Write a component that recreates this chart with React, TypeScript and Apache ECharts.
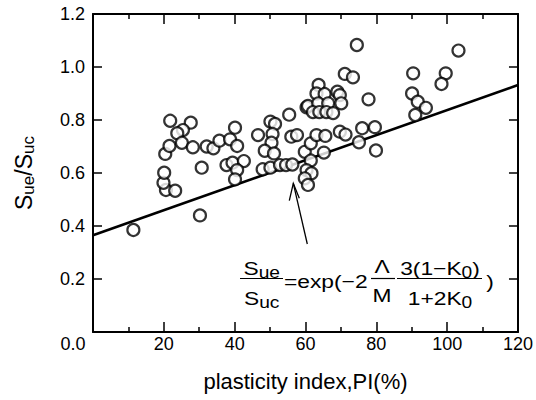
import React, { useEffect, useRef } from "react";
import * as echarts from "echarts";

// plasticity index PI (%)
const piValues = [
  11.4, 30.2, 20.6, 23.2, 19.9, 20.1, 20.4, 21.6, 21.8, 27.6, 25.4, 23.8, 25.1, 28.2, 30.7, 32.1, 34.0, 35.7, 38.7, 40.1, 40.7, 37.7, 39.4, 42.6, 40.7, 40.1,
  46.6, 50.1, 51.4, 50.7, 50.4, 48.5, 51.1, 47.9, 50.1, 52.8, 54.5, 56.3, 55.4, 56.0, 57.6, 60.3, 59.8, 61.5, 63.1, 65.6, 65.2, 61.5, 60.3, 61.7, 59.8, 60.7,
  71.1, 73.4, 63.7, 63.1, 65.4, 69.0, 69.7, 60.7, 63.6, 66.4, 70.1, 62.1, 63.9, 65.9, 67.8,
  74.5, 77.8, 103.2, 90.4, 99.6, 98.4, 90.1, 91.7, 94.0, 91.0,
  76.0, 79.6, 75.1, 79.9, 69.7, 71.3,
];
// Sue/Suc
const ratioValues = [
  0.385, 0.44, 0.536, 0.533, 0.563, 0.601, 0.672, 0.702, 0.797, 0.79, 0.762, 0.75, 0.714, 0.697, 0.62, 0.70, 0.693, 0.722, 0.727, 0.771, 0.702, 0.63, 0.639, 0.645, 0.611, 0.576,
  0.743, 0.794, 0.785, 0.747, 0.714, 0.684, 0.674, 0.614, 0.62, 0.63, 0.63, 0.632, 0.82, 0.737, 0.743, 0.848, 0.68, 0.712, 0.743, 0.74, 0.677, 0.647, 0.611, 0.599, 0.58, 0.555,
  0.974, 0.961, 0.932, 0.9, 0.898, 0.907, 0.894, 0.853, 0.863, 0.863, 0.863, 0.83, 0.83, 0.83, 0.826,
  1.083, 0.878, 1.062, 0.976, 0.976, 0.936, 0.9, 0.869, 0.846, 0.819,
  0.769, 0.773, 0.716, 0.685, 0.756, 0.745,
];
// theoretical line
const lineX = [0, 120];
const lineY = [0.365, 0.932];

const xMin = 0, xMax = 120, xStep = 20;
const yMin = 0, yMax = 1.2, yStep = 0.2;

const FONT = "'Liberation Sans', Arial, Helvetica, sans-serif";

export default function App() {
  const ref = useRef<HTMLDivElement>(null);
  useEffect(() => {
    if (!ref.current) return;
    const chart = echarts.init(ref.current, null, { renderer: "svg" });
    const axisLine = { show: true, onZero: false, lineStyle: { color: "#000", width: 2 } };
    const xTick = { show: true, inside: true, length: 10, lineStyle: { color: "#000", width: 1.5 } };
    const xMinor = { show: true, splitNumber: 2, length: 5, lineStyle: { color: "#000", width: 1.5 } };
    const yTick = { show: true, inside: true, length: 9, lineStyle: { color: "#000", width: 1.5 } };
    const eqText = (text: string, x: number, y: number, align = "center") => ({
      type: "text",
      x,
      y,
      scaleX: 1.2,
      z: 100,
      style: {
        text,
        fill: "#000",
        font: `19px ${FONT}`,
        align,
        verticalAlign: "middle",
        rich: {
          b: { fontSize: 16, fontFamily: FONT, fill: "#000", padding: [9, 0, 0, 0] },
        },
      },
    });
    const bar = (x1: number, x2: number) => ({
      type: "line",
      z: 100,
      shape: { x1, y1: 278.5, x2, y2: 278.5 },
      style: { stroke: "#000", lineWidth: 1.2 },
    });
    chart.setOption({
      animation: false,
      backgroundColor: "#fff",
      textStyle: { fontFamily: FONT },
      grid: { left: 93, right: 17, top: 14, bottom: 68 },
      xAxis: [
        {
          type: "value",
          min: xMin,
          max: xMax,
          interval: xStep,
          position: "bottom",
          axisLine,
          axisTick: xTick,
          minorTick: xMinor,
          splitLine: { show: false },
          minorSplitLine: { show: false },
          axisLabel: {
            color: "#000",
            fontSize: 18,
            fontFamily: FONT,
            margin: 3,
            showMinLabel: true,
            showMaxLabel: true,
            formatter: (v: number) => (v === 0 ? "{z|0.0}" : String(v)),
            rich: { z: { fontSize: 18, fontFamily: FONT, color: "#000", padding: [0, 40, 0, 0] } },
          },
          name: "plasticity index,PI(%)",
          nameLocation: "middle",
          nameGap: 38,
          nameTextStyle: { color: "#000", fontSize: 22, fontFamily: FONT },
        },
        {
          type: "value",
          min: xMin,
          max: xMax,
          interval: xStep,
          position: "top",
          axisLine,
          axisTick: xTick,
          minorTick: xMinor,
          splitLine: { show: false },
          axisLabel: { show: false },
        },
      ],
      yAxis: [
        {
          type: "value",
          min: yMin,
          max: yMax,
          interval: yStep,
          position: "left",
          axisLine,
          axisTick: yTick,
          splitLine: { show: false },
          axisLabel: {
            color: "#000",
            fontSize: 18,
            fontFamily: FONT,
            margin: 8,
            formatter: (v: number) => (v === 0 ? "" : v.toFixed(1)),
          },
          name: "{s|S}{b|ue}{s|/S}{b|uc}",
          nameLocation: "middle",
          nameRotate: 90,
          nameGap: 56,
          nameTextStyle: {
            color: "#000",
            rich: {
              s: { fontSize: 23, fontFamily: FONT, color: "#000" },
              b: { fontSize: 17, fontFamily: FONT, color: "#000", padding: [10, 0, 0, 0] },
            },
          },
        },
        {
          type: "value",
          min: yMin,
          max: yMax,
          interval: yStep,
          position: "right",
          axisLine,
          axisTick: yTick,
          splitLine: { show: false },
          axisLabel: { show: false },
        },
      ],
      series: [
        {
          type: "line",
          xAxisIndex: 0,
          yAxisIndex: 0,
          data: lineX.map((x, i) => [x, lineY[i]]),
          showSymbol: false,
          symbol: "none",
          lineStyle: { color: "#000", width: 2.6 },
          z: 2,
        },
        {
          type: "scatter",
          xAxisIndex: 0,
          yAxisIndex: 0,
          data: piValues.map((x, i) => [x, ratioValues[i]]),
          symbol: "circle",
          symbolSize: 12,
          itemStyle: { color: "#fff", borderColor: "#000", borderWidth: 2.2 },
          z: 3,
        },
      ],
      graphic: [
        {
          type: "polyline",
          z: 100,
          shape: { points: [[307.3, 244], [293.3, 183.3]] },
          style: { stroke: "#000", lineWidth: 1.3, fill: null },
        },
        {
          type: "polyline",
          z: 100,
          shape: { points: [[289.3, 200.7], [293.3, 183.3], [299.3, 198.3]] },
          style: { stroke: "#000", lineWidth: 1.3, fill: null },
        },
        eqText("S{b|ue}", 261.7, 268),
        bar(240, 283),
        eqText("S{b|uc}", 261.7, 298),
        eqText("=exp(\u22122", 284, 281, "left"),
        eqText("\u039B", 382, 266),
        bar(371, 395),
        eqText("M", 382, 295),
        eqText("3(1\u2212K{b|0})", 440, 268),
        bar(397, 482),
        eqText("1+2K{b|0}", 440, 298),
        eqText(")", 490, 281),
      ],
    });
    return () => chart.dispose();
  }, []);
  return (
    <div
      ref={ref}
      style={{ position: "fixed", left: 0, top: 0, width: 536, height: 400, background: "#fff" }}
    />
  );
}
